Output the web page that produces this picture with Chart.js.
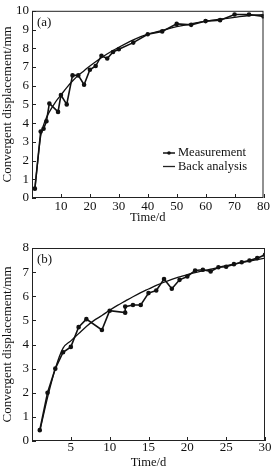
<!DOCTYPE html>
<html>
<head>
<meta charset="utf-8">
<script src="https://cdn.jsdelivr.net/npm/chart.js@4/dist/chart.umd.min.js"></script>
<style>
  html, body { margin: 0; padding: 0; background: #fff; }
  canvas { display: block; }
</style>
</head>
<body>
<canvas id="chartA" width="271" height="230"></canvas>
<canvas id="chartB" width="271" height="238"></canvas>
<script>
// (a) measurement vs back analysis
var daysA = [1, 3, 4, 5, 6, 9, 10, 12, 14, 16, 18, 20, 22, 24, 26, 28, 30, 35, 40, 45, 50, 55, 60, 65, 70, 75, 80]
var measuredA = [0.5, 3.55, 3.7, 4.1, 5.05, 4.6, 5.5, 5.0, 6.55, 6.55, 6.05, 6.85, 7.05, 7.6, 7.45, 7.8, 7.95, 8.3, 8.75, 8.9, 9.3, 9.25, 9.45, 9.5, 9.8, 9.8, 9.7]
var backDays = [1, 2, 3, 4, 5, 6, 8, 10, 12, 14, 16, 18, 20, 25, 30, 35, 40, 45, 50, 55, 60, 65, 70, 75, 80]
var backValues = [0.5, 2.0, 3.3, 3.9, 4.3, 4.6, 5.1, 5.5, 5.9, 6.25, 6.55, 6.8, 7.05, 7.6, 8.05, 8.45, 8.75, 8.95, 9.15, 9.3, 9.45, 9.55, 9.65, 9.75, 9.8]

// (b) measurement vs prediction
var daysB = [1, 2, 3, 4, 5, 6, 7, 9, 10, 12, 12, 13, 14, 15, 16, 17, 18, 19, 20, 21, 22, 23, 24, 25, 26, 27, 28, 29, 30]
var measuredB = [0.45, 2.0, 3.0, 3.68, 3.9, 4.72, 5.05, 4.6, 5.4, 5.32, 5.57, 5.64, 5.64, 6.13, 6.24, 6.71, 6.31, 6.68, 6.82, 7.07, 7.1, 7.03, 7.2, 7.22, 7.33, 7.41, 7.48, 7.58, 7.72]
var predDays = [1, 2, 3, 4, 5, 6, 7, 8, 9, 10, 11, 12, 13, 14, 15, 16, 17, 18, 19, 20, 21, 22, 23, 24, 25, 26, 27, 28, 29, 30]
var predValues = [0.4, 1.8, 3.0, 3.85, 4.15, 4.45, 4.75, 5.0, 5.2, 5.42, 5.62, 5.8, 5.98, 6.15, 6.3, 6.45, 6.58, 6.7, 6.8, 6.9, 6.98, 7.05, 7.12, 7.2, 7.27, 7.33, 7.4, 7.46, 7.52, 7.58]

var serif = 'Liberation Serif'

function toPoints (xs, ys) {
  var pts = []
  for (var i = 0; i < xs.length; i++) pts.push({x: xs[i], y: ys[i]})
  return pts
}

// frame, inward ticks, panel label and inside legend
var framePlugin = {
  id: 'frame',
  afterDraw: function (chart, args, opts) {
    var ctx = chart.ctx
    var area = chart.chartArea
    var xs = chart.scales.x
    var ys = chart.scales.y
    ctx.save()
    ctx.strokeStyle = '#222'
    ctx.lineWidth = 1
    ctx.strokeRect(area.left + 0.5, area.top + 0.5, area.right - area.left - 1, area.bottom - area.top - 1)
    ctx.beginPath()
    for (var i = 0; i < xs.ticks.length; i++) {
      var px = Math.round(xs.getPixelForTick(i)) + 0.5
      ctx.moveTo(px, area.bottom)
      ctx.lineTo(px, area.bottom - 4)
    }
    for (var j = 0; j < ys.ticks.length; j++) {
      var py = Math.round(ys.getPixelForTick(j)) + 0.5
      ctx.moveTo(area.left, py)
      ctx.lineTo(area.left + 4, py)
    }
    ctx.stroke()

    ctx.fillStyle = '#111'
    ctx.font = '13px ' + serif
    ctx.textBaseline = 'middle'
    ctx.textAlign = 'left'
    ctx.fillText(opts.panel, area.left + 5, area.top + 12)

    ctx.font = '12.5px ' + serif
    var sets = chart.data.datasets
    for (var k = 0; k < sets.length; k++) {
      var ly = opts.legendY + k * 13.5
      ctx.beginPath()
      ctx.lineWidth = sets[k].borderWidth
      ctx.moveTo(opts.legendX, ly)
      ctx.lineTo(opts.legendX + 12, ly)
      ctx.stroke()
      if (sets[k].pointRadius > 0) {
        ctx.beginPath()
        ctx.arc(opts.legendX + 6, ly, 1.8, 0, Math.PI * 2)
        ctx.fill()
      }
      ctx.fillText(sets[k].label, opts.legendX + 15, ly)
    }
    ctx.restore()
  }
}

function makeChart (id, sets, xMax, xStep, yMax, pad, xHeight, tickPad, titlePad, legend) {
  var ctx = document.getElementById(id).getContext('2d')
  return new Chart(ctx, {
    type: 'line',
    data: {datasets: sets},
    plugins: [framePlugin],
    options: {
      responsive: false,
      animation: false,
      parsing: false,
      layout: {padding: pad},
      plugins: {
        legend: {display: false},
        tooltip: {enabled: false},
        frame: legend
      },
      scales: {
        x: {
          type: 'linear',
          min: 0,
          max: xMax,
          grid: {display: false, drawTicks: false},
          border: {display: false},
          ticks: {
            stepSize: xStep,
            color: '#111',
            padding: tickPad,
            font: {family: serif, size: 13},
            callback: function (v) { return v === 0 ? '' : v }
          },
          title: {display: true, text: 'Time/d', color: '#111', font: {family: serif, size: 12.5, lineHeight: 1}, padding: {top: 0, bottom: titlePad}},
          afterFit: function (s) { s.height = xHeight }
        },
        y: {
          min: 0,
          max: yMax,
          grid: {display: false, drawTicks: false},
          border: {display: false},
          ticks: {stepSize: 1, color: '#111', padding: 3, font: {family: serif, size: 13}},
          title: {display: true, text: 'Convergent displacement/mm', color: '#111', font: {family: serif, size: 13}, padding: 0},
          afterFit: function (s) { s.width = 32 }
        }
      }
    }
  })
}

makeChart('chartA', [
  {label: 'Measurement', data: toPoints(daysA, measuredA), borderColor: '#111', backgroundColor: '#111', borderWidth: 1.6, pointRadius: 1.5, pointStyle: 'circle', tension: 0},
  {label: 'Back analysis', data: toPoints(backDays, backValues), borderColor: '#111', borderWidth: 1.3, pointRadius: 0, cubicInterpolationMode: 'monotone'}
], 80, 10, 10, {left: 0, right: 5, top: 5, bottom: 0}, 32, 1, 6, {panel: '(a)', legendX: 163, legendY: 153})

makeChart('chartB', [
  {label: 'Measurement', data: toPoints(daysB, measuredB), borderColor: '#111', backgroundColor: '#111', borderWidth: 1.6, pointRadius: 1.5, pointStyle: 'circle', tension: 0},
  {label: 'Prediction', data: toPoints(predDays, predValues), borderColor: '#111', borderWidth: 1.3, pointRadius: 0, cubicInterpolationMode: 'monotone'}
], 30, 5, 8, {left: 0, right: 6, top: 18, bottom: 0}, 27, -1, -1, {panel: '(b)', legendX: 163, legendY: 401})
</script>
</body>
</html>
